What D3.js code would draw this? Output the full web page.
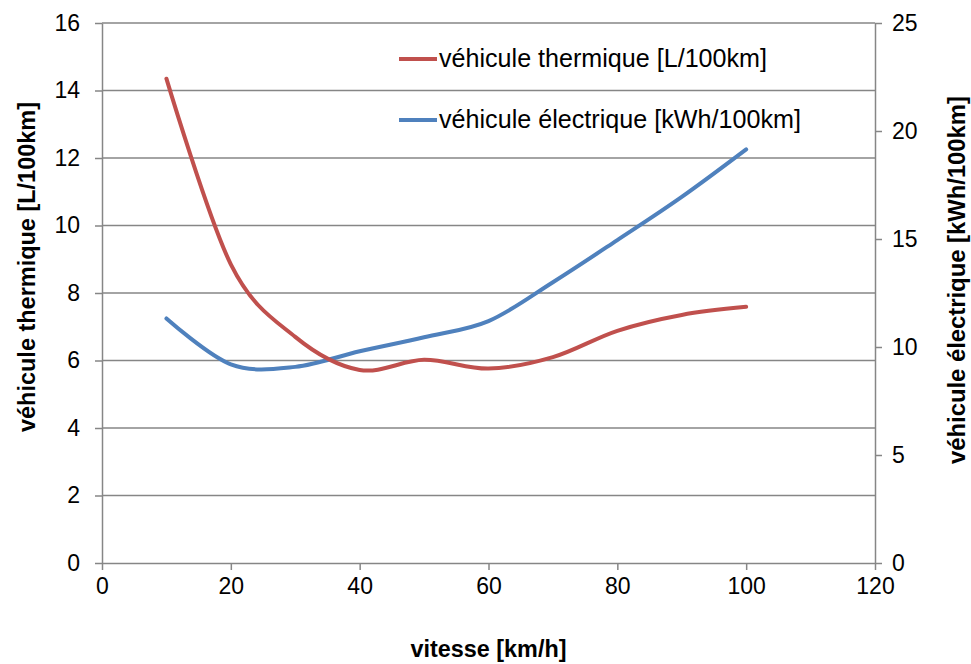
<!DOCTYPE html>
<html lang="fr">
<head>
  <meta charset="UTF-8" />
  <title>Consommation vs vitesse</title>
  <script src="https://d3js.org/d3.v7.min.js"></script>
  <style>
    body{margin:0;background:#fff;font-family:"Liberation Sans",Arial,sans-serif}
    svg text{fill:#000}
  </style>
</head>
<body>
  <div id="chart"></div>
  <script>
    // vitesse [km/h]
    const speeds = [10, 20, 30, 40, 50, 60, 70, 80, 90, 100];
    // véhicule thermique [L/100km] (axe gauche)
    const thermique = [14.35, 8.85, 6.7, 5.72, 6.02, 5.76, 6.1, 6.88, 7.35, 7.59];
    // véhicule électrique [kWh/100km] (axe droit)
    const electrique = [11.32, 9.2, 9.08, 9.8, 10.45, 11.2, 13.0, 14.95, 16.95, 19.15];

    const xTicks = [0, 20, 40, 60, 80, 100, 120];
    const yLeftTicks = [0, 2, 4, 6, 8, 10, 12, 14, 16];
    const yRightTicks = [0, 5, 10, 15, 20, 25];

    const RED = "#c0504d", BLUE = "#4f81bd", GREY = "#868686";
    const W = 971, H = 664;
    const L = 102, R = 875, T = 23, B = 563;

    const svg = d3.select("#chart").append("svg").attr("width", W).attr("height", H);

    const x = d3.scaleLinear().domain([0, 120]).range([L, R]);
    const yL = d3.scaleLinear().domain([0, 16]).range([B, T]);
    const yR = d3.scaleLinear().domain([0, 25]).range([B, T]);

    // shrink/grow a text's font so it spans about `w` px (Calibri is narrower than what we have)
    function fit(sel, size, w) {
      sel.attr("font-size", size);
      const len = sel.node().getComputedTextLength();
      sel.attr("font-size", (size * w / len).toFixed(2));
      return sel;
    }

    // grille
    svg.append("g").selectAll("line").data(yLeftTicks.slice(1)).enter().append("line")
      .attr("x1", L).attr("x2", R).attr("y1", d => yL(d)).attr("y2", d => yL(d))
      .attr("stroke", GREY).attr("stroke-width", 1.5);

    const tickFont = g => {
      g.select(".domain").attr("stroke", GREY).attr("stroke-width", 1.5);
      g.selectAll(".tick line").attr("stroke", GREY).attr("stroke-width", 1.5);
      g.selectAll(".tick text").attr("font-family", "Liberation Sans, Arial, sans-serif").attr("font-size", 23).attr("fill", "#000");
    };

    svg.append("g").attr("transform", `translate(0,${B})`)
      .call(d3.axisBottom(x).tickValues(xTicks).tickSize(7).tickSizeOuter(0).tickPadding(8))
      .call(tickFont);
    svg.append("g").attr("transform", `translate(${L},0)`)
      .call(d3.axisLeft(yL).tickValues(yLeftTicks).tickSize(7).tickSizeOuter(0).tickPadding(15))
      .call(tickFont);
    svg.append("g").attr("transform", `translate(${R},0)`)
      .call(d3.axisRight(yR).tickValues(yRightTicks).tickSize(7).tickSizeOuter(0).tickPadding(10))
      .call(tickFont);

    // courbes
    const lineL = d3.line().x((d, i) => x(speeds[i])).y(d => yL(d)).curve(d3.curveCardinal.tension(0));
    const lineR = d3.line().x((d, i) => x(speeds[i])).y(d => yR(d)).curve(d3.curveCardinal.tension(0));

    svg.append("path").datum(electrique).attr("d", lineR)
      .attr("fill", "none").attr("stroke", BLUE).attr("stroke-width", 4).attr("stroke-linecap", "round");
    svg.append("path").datum(thermique).attr("d", lineL)
      .attr("fill", "none").attr("stroke", RED).attr("stroke-width", 4).attr("stroke-linecap", "round");

    // légende
    const legend = [
      {label: "véhicule thermique [L/100km]", color: RED, y: 59, w: 328},
      {label: "véhicule électrique [kWh/100km]", color: BLUE, y: 120, w: 362}
    ];
    const lg = svg.append("g");
    legend.forEach(d => {
      lg.append("line").attr("x1", 399).attr("x2", 437).attr("y1", d.y).attr("y2", d.y)
        .attr("stroke", d.color).attr("stroke-width", 4);
      fit(lg.append("text").attr("x", 439).attr("y", d.y + 8).text(d.label), 23, d.w);
    });

    // titres des axes
    fit(svg.append("text").attr("x", (L + R) / 2).attr("y", 657).attr("text-anchor", "middle")
      .attr("font-weight", "bold").text("vitesse [km/h]"), 22, 156);
    fit(svg.append("text").attr("transform", "translate(35,267) rotate(-90)").attr("text-anchor", "middle")
      .attr("font-weight", "bold").text("véhicule thermique [L/100km]"), 22, 330);
    fit(svg.append("text").attr("transform", "translate(965,280) rotate(-90)").attr("text-anchor", "middle")
      .attr("font-weight", "bold").text("véhicule électrique [kWh/100km]"), 22, 368);
  </script>
</body>
</html>
